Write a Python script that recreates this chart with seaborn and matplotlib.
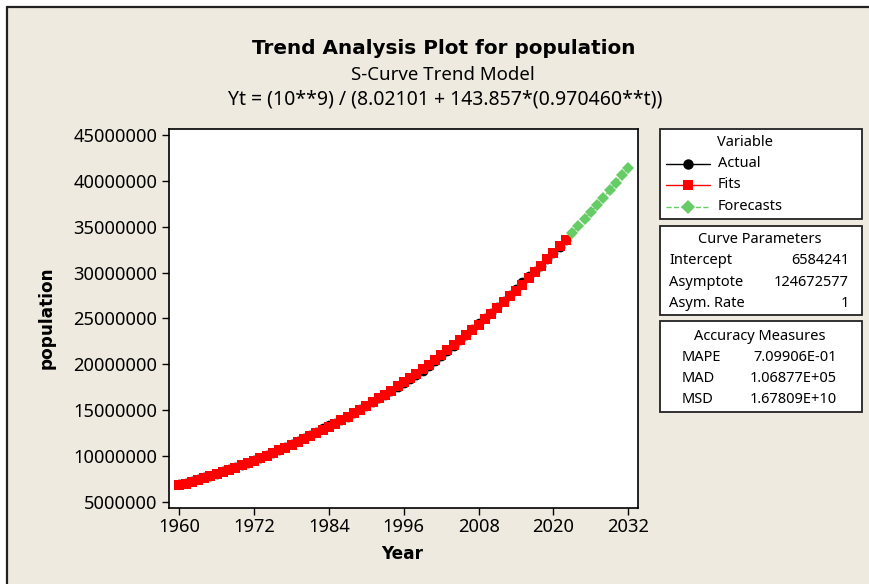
import matplotlib
matplotlib.use("Agg")
import matplotlib.pyplot as plt
import seaborn as sns
from matplotlib.lines import Line2D
from matplotlib.patches import Rectangle

# data
years = list(range(1960, 2023))
actual = [6904000, 7078400, 7268300, 7443600, 7644400, 7850800, 8063000, 8311100,
          8555100, 8785400, 9021800, 9264700, 9514100, 9770200, 10053200, 10343100,
          10640100, 10954300, 11285800, 11614900, 11951600, 12286200, 12628700,
          12989300, 13418000, 13575100, 13900600, 14254800, 14657800, 15069600,
          15460500, 15860500, 16269800, 16688500, 17106700, 17534600, 17952200,
          18369600, 18807000, 19274400, 19782100, 20320000, 20888100, 21456700,
          22035800, 22635500, 23225700, 23816600, 24448200, 25030500, 25593600,
          26197400, 26842000, 27497500, 28193700, 28950600, 29598300, 30156700,
          30755600, 31425100, 32115100, 32825500, 33576200]
fits = [6773800, 6968400, 7168300, 7373600, 7584400, 7800800, 8023000, 8251100,
        8485100, 8725400, 8971800, 9224700, 9484100, 9750200, 10023200, 10303100,
        10590100, 10884300, 11185800, 11494900, 11811600, 12136200, 12468700,
        12809300, 13158000, 13515100, 13880600, 14254800, 14637800, 15029600,
        15430500, 15840500, 16259800, 16688500, 17126700, 17574600, 18032200,
        18499600, 18977000, 19464400, 19962100, 20470000, 20988100, 21516700,
        22055800, 22605500, 23165700, 23736600, 24318200, 24910500, 25513600,
        26127400, 26752000, 27387500, 28033700, 28690600, 29358300, 30036700,
        30725600, 31425100, 32135100, 32855500, 33586200]
fc_years = list(range(2023, 2033))
forecasts = [34327100, 35078000, 35838800, 36609400, 37389600, 38179100,
             38978000, 39785800, 40602400, 41427600]

x_ticks = [1960, 1972, 1984, 1996, 2008, 2020, 2032]
y_ticks = [5000000, 10000000, 15000000, 20000000, 25000000, 30000000,
           35000000, 40000000, 45000000]

curve_params = [("Intercept", "6584241"), ("Asymptote", "124672577"), ("Asym. Rate", "1")]
accuracy = [("MAPE", "7.09906E-01"), ("MAD", "1.06877E+05"), ("MSD", "1.67809E+10")]

sns.set_style("white")
plt.rcParams['font.family'] = ['Noto Sans', 'DejaVu Sans']
plt.rcParams['text.color'] = 'black'
plt.rcParams['axes.labelcolor'] = 'black'
plt.rcParams['xtick.color'] = 'black'
plt.rcParams['ytick.color'] = 'black'
BOLD = ['DejaVu Sans']

W, H = 870, 584
BG = '#EEEAE0'
GREEN = '#66CC66'


def fx(px):
    return px / W


def fy(py):
    return 1 - py / H


fig = plt.figure(figsize=(8.7, 5.84), dpi=100, facecolor='white')
fig.add_artist(Rectangle((fx(7), 0), 1, fy(7), transform=fig.transFigure,
                         facecolor=BG, edgecolor='none', zorder=0))
fig.add_artist(Line2D([fx(7), 1.01], [fy(6.5), fy(6.5)], color='#222222', lw=1.6))
fig.add_artist(Line2D([fx(7), fx(7)], [-0.01, fy(6.5)], color='#222222', lw=1.6))

ax = fig.add_axes([fx(169.3), fy(507.7), (638.3 - 169.3) / W, (507.7 - 129.3) / H])
ax.set_facecolor('white')

sns.lineplot(x=years, y=actual, ax=ax, color='black', lw=1, marker='o',
             markersize=7, markeredgewidth=0)
sns.lineplot(x=years, y=fits, ax=ax, color='red', lw=1, marker='s',
             markersize=7, markeredgewidth=0)
sns.lineplot(x=fc_years, y=forecasts, ax=ax, color=GREEN, lw=1, linestyle='--',
             marker='D', markersize=6.5, markeredgewidth=0)

ax.set_xlim(1958.4, 2033.6)
ax.set_ylim(4345000, 45620000)
ax.set_xticks(x_ticks)
ax.set_xticklabels([str(v) for v in x_ticks])
ax.set_yticks(y_ticks)
ax.set_yticklabels([str(v) for v in y_ticks])
ax.tick_params(axis='both', direction='out', length=5, width=1, color='black',
               labelcolor='black', labelsize=13.2, bottom=True, left=True,
               top=False, right=False)
ax.tick_params(axis='y', pad=3.5)
ax.tick_params(axis='x', pad=2.5)
for s in ax.spines.values():
    s.set_color('black')
    s.set_linewidth(1.2)

ax.set_xlabel("Year", fontsize=12.2, fontweight='bold', family=BOLD, va='center',
              color='black')
ax.set_ylabel("population", fontsize=12.2, fontweight='bold', family=BOLD, va='center',
              color='black')
ax.xaxis.set_label_coords(0.496, -0.1224)
ax.yaxis.set_label_coords(-0.2608, 0.5013)

fig.text(fx(444), fy(48), "Trend Analysis Plot for population", ha='center',
         va='center', fontsize=14.4, fontweight='bold', family=BOLD, color='black')
fig.text(fx(443), fy(75), "S-Curve Trend Model", ha='center', va='center', fontsize=13.4)
fig.text(fx(444.7), fy(100), "Yt = (10**9) / (8.02101 + 143.857*(0.970460**t))",
         ha='center', va='center', fontsize=14)


def box(x0, y0, x1, y1):
    fig.add_artist(Rectangle((fx(x0), fy(y1)), fx(x1) - fx(x0), fy(y0) - fy(y1),
                             transform=fig.transFigure, facecolor='white',
                             edgecolor='#222222', lw=1.3))


FS = 10.5

# legend box
box(660, 129, 862, 219)
fig.text(fx(745), fy(143), "Variable", ha='center', va='center', fontsize=FS)
leg = [("Actual", 'black', 'o', '-', 163.7), ("Fits", 'red', 's', '-', 184.7),
       ("Forecasts", GREEN, 'D', '--', 206.7)]
for name, col, mk, ls, yy in leg:
    fig.add_artist(Line2D([fx(666), fx(710)], [fy(yy), fy(yy)], color=col, lw=1, ls=ls))
    fig.add_artist(Line2D([fx(688)], [fy(yy)], color=col, marker=mk, markersize=7.5,
                          markeredgewidth=0, ls='none'))
    fig.text(fx(718), fy(yy), name, ha='left', va='center', fontsize=FS)

# curve parameters box
box(660, 226, 862, 315)
fig.text(fx(760), fy(239.5), "Curve Parameters", ha='center', va='center', fontsize=FS)
for i, (k, v) in enumerate(curve_params):
    yy = 261 + i * 21.2
    fig.text(fx(669), fy(yy), k, ha='left', va='center', fontsize=FS)
    fig.text(fx(849), fy(yy), v, ha='right', va='center', fontsize=FS)

# accuracy measures box
box(660, 321, 862, 412)
fig.text(fx(760), fy(336), "Accuracy Measures", ha='center', va='center', fontsize=FS)
for i, (k, v) in enumerate(accuracy):
    yy = 357.3 + i * 21.3
    fig.text(fx(682), fy(yy), k, ha='left', va='center', fontsize=FS)
    fig.text(fx(837), fy(yy), v, ha='right', va='center', fontsize=FS)

fig.savefig("out.png", dpi=100, facecolor='white')
